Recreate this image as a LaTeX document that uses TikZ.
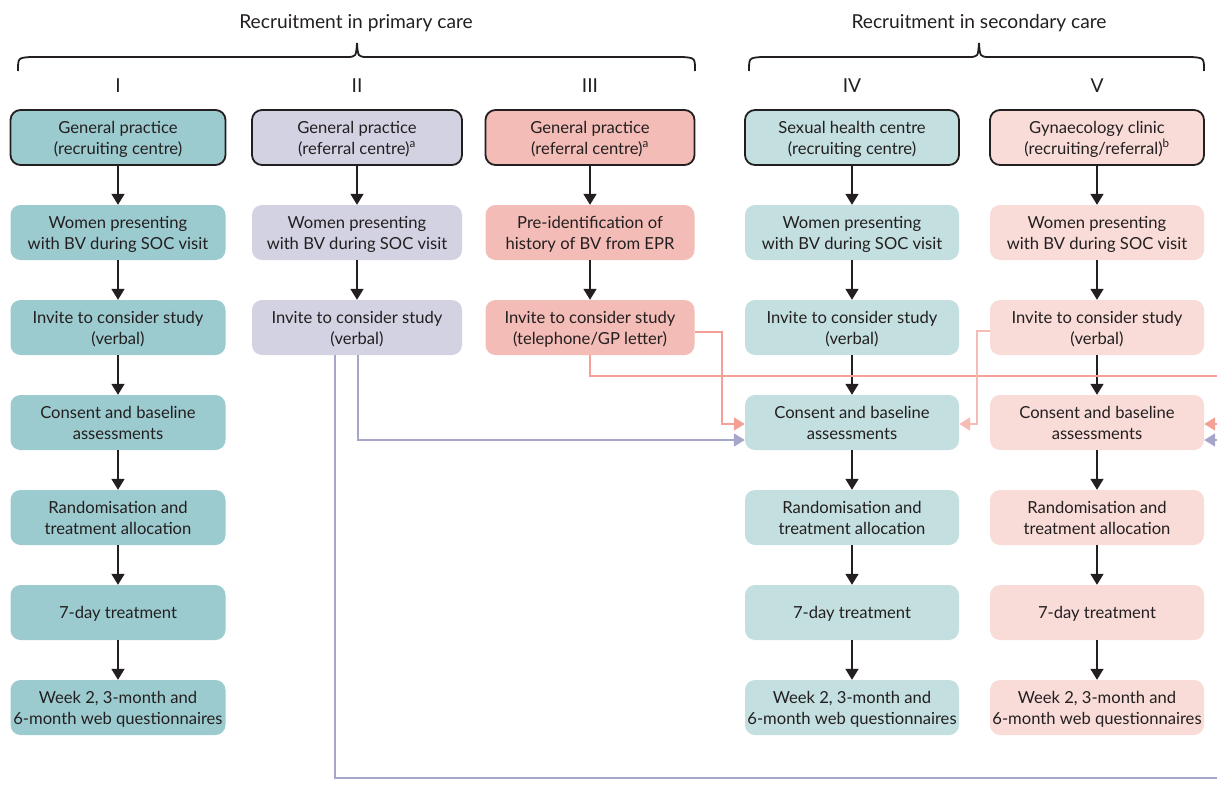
\documentclass[tikz,border=0pt]{standalone}
\usepackage{fontspec}
\setmainfont{Lato}
\usetikzlibrary{arrows.meta,calc}
\definecolor{cI}{HTML}{9CCBCF}
\definecolor{cII}{HTML}{D3D2E3}
\definecolor{cIII}{HTML}{F4BCB6}
\definecolor{cIV}{HTML}{C3DFE0}
\definecolor{cV}{HTML}{F9DCD8}
\definecolor{pinkline}{HTML}{F4A097}
\definecolor{lightpinkline}{HTML}{F6BBB4}
\definecolor{lavline}{HTML}{A6A6CB}
\definecolor{txt}{HTML}{231F20}
\tikzset{
  box/.style={rounded corners=10pt, minimum height=55pt, align=center, inner sep=0pt,
    text=txt, font=\fontsize{16.6}{21}\selectfont, text depth=0pt},
  head/.style={box, draw=txt, line width=1.8pt},
  flow/.style={-{Triangle[width=13pt,length=11pt]}, line width=1.7pt, draw=txt},
  pinkc/.style={line width=2pt, draw=pinkline},
  lightpinkc/.style={line width=2pt, draw=lightpinkline},
  lavc/.style={line width=2pt, draw=lavline},
  tip/.style={-{Triangle[width=13pt,length=11pt]}},
  lab/.style={text=txt, font=\fontsize{19.2}{22}\selectfont},
  brace/.style={line width=1.8pt, draw=txt}
}
\begin{document}
\begin{tikzpicture}[x=1pt,y=-1pt]
\useasboundingbox (0,0) rectangle (1217,789);
% titles
\node[lab] (tp) at (356,23) {Recruitment in primary care};
\node[lab] (ts) at (979,23) {Recruitment in secondary care};
% braces
\draw[brace] (18,71) .. controls (18,58) .. (30,57) -- (346,57) .. controls (356,57) .. (357,43) .. controls (358,57) .. (368,57) -- (683,57) .. controls (695,58) .. (695,71);
\draw[brace] (749,71) .. controls (749,58) .. (761,57) -- (968,57) .. controls (978,57) .. (979,43) .. controls (980,57) .. (990,57) -- (1192,57) .. controls (1204,58) .. (1204,71);
% column labels
\node[lab] (lI) at (118,86) {I};
\node[lab] (lII) at (357,86) {II};
\node[lab] (lIII) at (590,86) {III};
\node[lab] (lIV) at (852,86) {IV};
\node[lab] (lV) at (1097,86) {V};
% column I
\begin{scope}[every node/.append style={minimum width=215pt, fill=cI}]
\node[head] (I1) at (118,137.5) {General practice\\(recruiting centre)};
\node[box] (I2) at (118,232.5) {Women presenting\\with BV during SOC visit};
\node[box] (I3) at (118,327.5) {Invite to consider study\\(verbal)};
\node[box] (I4) at (118,422.5) {Consent and baseline\\assessments};
\node[box] (I5) at (118,517.5) {Randomisation and\\treatment allocation};
\node[box] (I6) at (118,612.5) {7-day treatment};
\node[box] (I7) at (118,707.5) {Week 2, 3-month and\\6-month web questionnaires};
\end{scope}
% column II
\begin{scope}[every node/.append style={minimum width=210pt, fill=cII}]
\node[head] (II1) at (357,137.5) {General practice\\(referral centre)\textsuperscript{a}};
\node[box] (II2) at (357,232.5) {Women presenting\\with BV during SOC visit};
\node[box] (II3) at (357,327.5) {Invite to consider study\\(verbal)};
\end{scope}
% column III
\begin{scope}[every node/.append style={minimum width=209pt, fill=cIII}]
\node[head] (III1) at (590,137.5) {General practice\\(referral centre)\textsuperscript{a}};
\node[box] (III2) at (590,232.5) {Pre-identification of\\history of BV from EPR};
\node[box] (III3) at (590,327.5) {Invite to consider study\\(telephone/GP letter)};
\end{scope}
% column IV
\begin{scope}[every node/.append style={minimum width=214pt, fill=cIV}]
\node[head] (IV1) at (852,137.5) {Sexual health centre\\(recruiting centre)};
\node[box] (IV2) at (852,232.5) {Women presenting\\with BV during SOC visit};
\node[box] (IV3) at (852,327.5) {Invite to consider study\\(verbal)};
\node[box] (IV4) at (852,422.5) {Consent and baseline\\assessments};
\node[box] (IV5) at (852,517.5) {Randomisation and\\treatment allocation};
\node[box] (IV6) at (852,612.5) {7-day treatment};
\node[box] (IV7) at (852,707.5) {Week 2, 3-month and\\6-month web questionnaires};
\end{scope}
% column V
\begin{scope}[every node/.append style={minimum width=214pt, fill=cV}]
\node[head] (V1) at (1097,137.5) {Gynaecology clinic\\(recruiting/referral)\textsuperscript{b}};
\node[box] (V2) at (1097,232.5) {Women presenting\\with BV during SOC visit};
\node[box] (V3) at (1097,327.5) {Invite to consider study\\(verbal)};
\node[box] (V4) at (1097,422.5) {Consent and baseline\\assessments};
\node[box] (V5) at (1097,517.5) {Randomisation and\\treatment allocation};
\node[box] (V6) at (1097,612.5) {7-day treatment};
\node[box] (V7) at (1097,707.5) {Week 2, 3-month and\\6-month web questionnaires};
\end{scope}
% vertical flow arrows
\foreach \c in {I,IV,V}{
  \draw[flow] (\c1) -- (\c2);
  \draw[flow] (\c2) -- (\c3);
  \draw[flow] (\c3) -- (\c4);
  \draw[flow] (\c4) -- (\c5);
  \draw[flow] (\c5) -- (\c6);
  \draw[flow] (\c6) -- (\c7);
}
\foreach \c in {II,III}{
  \draw[flow] (\c1) -- (\c2);
  \draw[flow] (\c2) -- (\c3);
}
% off-page coordinates
\coordinate (pinkOut) at (1217,376);
\coordinate (lavOut) at (1217,778);
\coordinate (pinkIn) at (1217,424);
\coordinate (lavIn) at (1217,440);
% lavender connectors
\draw[lavc, tip] ([xshift=1pt]II3.south) |- ([yshift=-17.5pt]IV4.west);
\draw[lavc] ([xshift=-22pt]II3.south) |- (lavOut);
\draw[lavc, tip] (lavIn) -- (lavIn -| V4.east);
% pink connectors
\draw[pinkc, tip] ([yshift=-4pt]III3.east) -- ++(27pt,0) |- ([yshift=-1.5pt]IV4.west);
\draw[pinkc] (III3.south) |- (pinkOut);
\draw[pinkc, tip] (pinkIn) -- (pinkIn -| V4.east);
\draw[lightpinkc, tip] ([yshift=-3pt]V3.west) -- ++(-13pt,0) |- ([yshift=-1.5pt]IV4.east);
\end{tikzpicture}
\end{document}
